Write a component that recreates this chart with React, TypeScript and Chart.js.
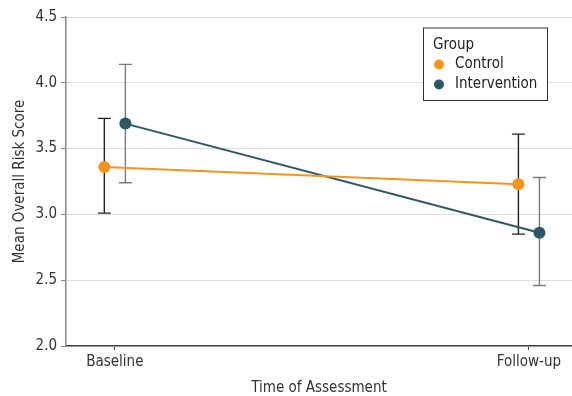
import React, { useEffect, useRef } from "react";
import { Chart, registerables } from "chart.js";

Chart.register(...registerables);

const categories = ["Baseline", "Follow-up"];
const seriesNames = ["Control", "Intervention"];
const controlMean = [3.36, 3.23];
const controlLow = [3.01, 2.85];
const controlHigh = [3.73, 3.61];
const interventionMean = [3.69, 2.86];
const interventionLow = [3.24, 2.46];
const interventionHigh = [4.14, 3.28];
const yTicks = [2.0, 2.5, 3.0, 3.5, 4.0, 4.5];
const dodge = [-0.0254, 0.0254];

const ORANGE = "#F7941E";
const TEAL = "#2C5866";
const FONT = "'DejaVu Sans Condensed', 'DejaVu Sans', sans-serif";

const errorBarPlugin = {
  id: "errorBars",
  beforeDatasetsDraw(chart: any) {
    const { ctx, scales } = chart;
    const xs = scales.x;
    const ys = scales.y;
    const groups = [
      { low: controlLow, high: controlHigh, color: "#222222", d: dodge[0] },
      { low: interventionLow, high: interventionHigh, color: "#7a7a7a", d: dodge[1] },
    ];
    ctx.save();
    groups.forEach((g) => {
      ctx.strokeStyle = g.color;
      ctx.lineWidth = 1.4;
      categories.forEach((_, i) => {
        const x = xs.getPixelForValue(i + g.d);
        const y1 = ys.getPixelForValue(g.low[i]);
        const y2 = ys.getPixelForValue(g.high[i]);
        const w = 6.5;
        ctx.beginPath();
        ctx.moveTo(x, y1);
        ctx.lineTo(x, y2);
        ctx.moveTo(x - w, y1);
        ctx.lineTo(x + w, y1);
        ctx.moveTo(x - w, y2);
        ctx.lineTo(x + w, y2);
        ctx.stroke();
      });
    });
    ctx.restore();
  },
};

const legendPlugin = {
  id: "boxLegend",
  afterDraw(chart: any) {
    const { ctx } = chart;
    const left = 423;
    const top = 27.5;
    const w = 124;
    const h = 72.5;
    ctx.save();
    ctx.fillStyle = "#ffffff";
    ctx.fillRect(left, top, w, h);
    ctx.strokeStyle = "#333333";
    ctx.lineWidth = 1;
    ctx.strokeRect(left + 0.5, top + 0.5, w, h);
    ctx.font = `15px ${FONT}`;
    ctx.textBaseline = "middle";
    ctx.textAlign = "left";
    ctx.fillStyle = "#222222";
    ctx.fillText("Group", 433, 45);
    const colors = [ORANGE, TEAL];
    seriesNames.forEach((name, i) => {
      const cy = 64.5 + i * 20;
      ctx.beginPath();
      ctx.fillStyle = colors[i];
      ctx.arc(439, cy, 5, 0, Math.PI * 2);
      ctx.fill();
      ctx.fillStyle = "#222222";
      ctx.fillText(name, 455, cy);
    });
    ctx.restore();
  },
};

export default function App() {
  const ref = useRef<HTMLCanvasElement>(null);
  useEffect(() => {
    if (!ref.current) return;
    const mk = (vals: number[], d: number) => vals.map((v, i) => ({ x: i + d, y: v }));
    const chart = new Chart(ref.current, {
      type: "line",
      data: {
        datasets: [
          {
            label: seriesNames[0],
            data: mk(controlMean, dodge[0]),
            borderColor: ORANGE,
            backgroundColor: ORANGE,
            borderWidth: 2,
            pointRadius: 6,
            pointBorderWidth: 0,
          },
          {
            label: seriesNames[1],
            data: mk(interventionMean, dodge[1]),
            borderColor: TEAL,
            backgroundColor: TEAL,
            borderWidth: 2,
            pointRadius: 6,
            pointBorderWidth: 0,
          },
        ],
      },
      options: {
        animation: false,
        responsive: false,
        layout: { autoPadding: false, padding: { top: 17, right: 0, left: 0, bottom: 0 } },
        plugins: { legend: { display: false }, tooltip: { enabled: false } },
        scales: {
          x: {
            type: "linear",
            min: -0.118,
            max: 1.104,
            afterBuildTicks: (s: any) => {
              s.ticks = categories.map((_, i) => ({ value: i }));
            },
            afterFit: (s: any) => {
              s.height = 50;
              s.paddingRight = 0;
              s.paddingLeft = 0;
            },
            ticks: {
              callback: (v: any) => categories[Math.round(Number(v))] ?? "",
              color: "#333333",
              font: { family: FONT, size: 15 },
              padding: 3,
              maxRotation: 0,
            },
            grid: {
              drawOnChartArea: false,
              drawTicks: true,
              tickLength: 4,
              color: "#444444",
            },
            border: { color: "#444444", width: 1.5 },
            title: {
              display: true,
              text: "Time of Assessment",
              color: "#333333",
              font: { family: FONT, size: 15, lineHeight: 1 },
              padding: { top: 0, bottom: 0 },
            },
          },
          y: {
            min: 2,
            max: 4.5,
            afterBuildTicks: (s: any) => {
              s.ticks = yTicks.map((v) => ({ value: v }));
            },
            afterFit: (s: any) => {
              s.width = 66;
            },
            ticks: {
              callback: (v: any) => Number(v).toFixed(1),
              color: "#333333",
              font: { family: FONT, size: 15 },
              padding: 4,
            },
            grid: {
              color: "#dddddd",
              lineWidth: 1,
              tickLength: 5,
              tickColor: "#888888",
              drawTicks: true,
            },
            border: { color: "#888888", width: 1.5 },
            title: {
              display: true,
              text: "Mean Overall Risk Score",
              color: "#333333",
              font: { family: FONT, size: 15, lineHeight: 1.2 },
              padding: { top: 11, bottom: 0 },
            },
          },
        },
      },
      plugins: [errorBarPlugin, legendPlugin],
    } as any);
    return () => chart.destroy();
  }, []);
  return (
    <div style={{ position: "fixed", left: 0, top: 0, width: 572, height: 396, background: "#fff" }}>
      <canvas ref={ref} width={572} height={396} style={{ display: "block" }} />
    </div>
  );
}
